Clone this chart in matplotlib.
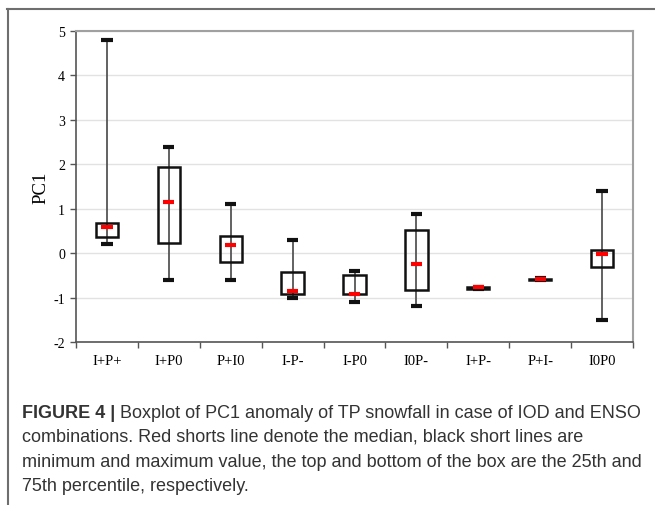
import matplotlib
matplotlib.use('Agg')
from matplotlib import pyplot as plt
from matplotlib.lines import Line2D
import numpy as np

# box statistics
categories = ['I+P+', 'I+P0', 'P+I0', 'I-P-', 'I-P0', 'I0P-', 'I+P-', 'P+I-', 'I0P0']
mins = [0.20, -0.60, -0.60, -1.00, -1.10, -1.20, -0.80, -0.61, -1.50]
q1 = [0.37, 0.22, -0.20, -0.91, -0.92, -0.84, -0.80, -0.61, -0.31]
medians = [0.59, 1.14, 0.19, -0.86, -0.93, -0.25, -0.77, -0.59, -0.01]
q3 = [0.68, 1.93, 0.39, -0.42, -0.49, 0.53, -0.77, -0.58, 0.07]
maxs = [4.80, 2.40, 1.10, 0.30, -0.40, 0.89, -0.76, -0.56, 1.40]
yticks = [-2, -1, 0, 1, 2, 3, 4, 5]

caption_bold = 'FIGURE 4 | '
caption_lines = ['Boxplot of PC1 anomaly of TP snowfall in case of IOD and ENSO',
                 'combinations. Red shorts line denote the median, black short lines are',
                 'minimum and maximum value, the top and bottom of the box are the 25th and',
                 '75th percentile, respectively.']

W, H = 655, 506
fig = plt.figure(figsize=(W / 100, H / 100), dpi=100)
ax = fig.add_axes([76 / W, 1 - 343 / H, (633 - 76) / W, (343 - 32) / H])

x = np.arange(len(categories)) + 0.5
bw = 0.36
cw = 0.18

# whisker line through the whole range
ax.vlines(x, mins, maxs, color='#555555', lw=1.3, zorder=2)
# boxes
ax.bar(x, np.array(q3) - np.array(q1), bottom=q1, width=bw, fill=False,
       edgecolor='#111111', lw=1.8, zorder=3)
# min / max caps
ax.hlines(maxs, x - cw / 2, x + cw / 2, color='#111111', lw=3, zorder=4)
ax.hlines(mins, x - cw / 2, x + cw / 2, color='#111111', lw=3, zorder=4)
# medians
ax.hlines(medians, x - cw / 2, x + cw / 2, color='#ff0000', lw=3, zorder=5)

ax.set_xlim(0, len(categories))
ax.set_ylim(-2, 5)
ax.set_yticks(yticks)
ax.set_yticklabels([str(t) for t in yticks], family='Liberation Serif', fontsize=10)
ax.set_xticks(np.arange(len(categories) + 1))
ax.set_xticklabels([])
ax.set_xticks(x, minor=True)
ax.set_xticklabels(categories, minor=True, family='Liberation Serif', fontsize=10.5)
ax.tick_params(axis='x', which='major', length=4, width=1, color='#555555', direction='out')
ax.tick_params(axis='x', which='minor', length=0, pad=9)
ax.tick_params(axis='y', length=4, width=1, color='#555555', pad=4)
ax.set_ylabel('PC1', family='Liberation Serif', fontsize=13.5, labelpad=3)

ax.yaxis.grid(True, color='#e2e2e2', lw=1)
ax.set_axisbelow(True)
for side in ['top', 'right']:
    ax.spines[side].set_color('#a0a0a0')
    ax.spines[side].set_linewidth(1.5)
for side in ['left', 'bottom']:
    ax.spines[side].set_color('#555555')
    ax.spines[side].set_linewidth(1.2)

# outer frame (left and top only)
fig.add_artist(Line2D([7 / W, 1], [1 - 10 / H, 1 - 10 / H], color='#6e6e6e', lw=1.5))
fig.add_artist(Line2D([8 / W, 8 / W], [0, 1 - 10 / H], color='#6e6e6e', lw=1.5))

# caption
cap_color = '#333333'
x0 = 22 / W
baselines = [418, 442, 467, 491]
t = fig.text(x0, 1 - baselines[0] / H, caption_bold, fontsize=13, weight='bold',
             family='Liberation Sans', color=cap_color, va='baseline')
renderer = fig.canvas.get_renderer()
bb = t.get_window_extent(renderer)
fig.text(bb.x1 / W, 1 - baselines[0] / H, caption_lines[0], fontsize=13,
         family='Liberation Sans', color=cap_color, va='baseline')
for line, yb in zip(caption_lines[1:], baselines[1:]):
    fig.text(x0, 1 - yb / H, line, fontsize=13, family='Liberation Sans',
             color=cap_color, va='baseline')

fig.savefig('out.png', dpi=100)
